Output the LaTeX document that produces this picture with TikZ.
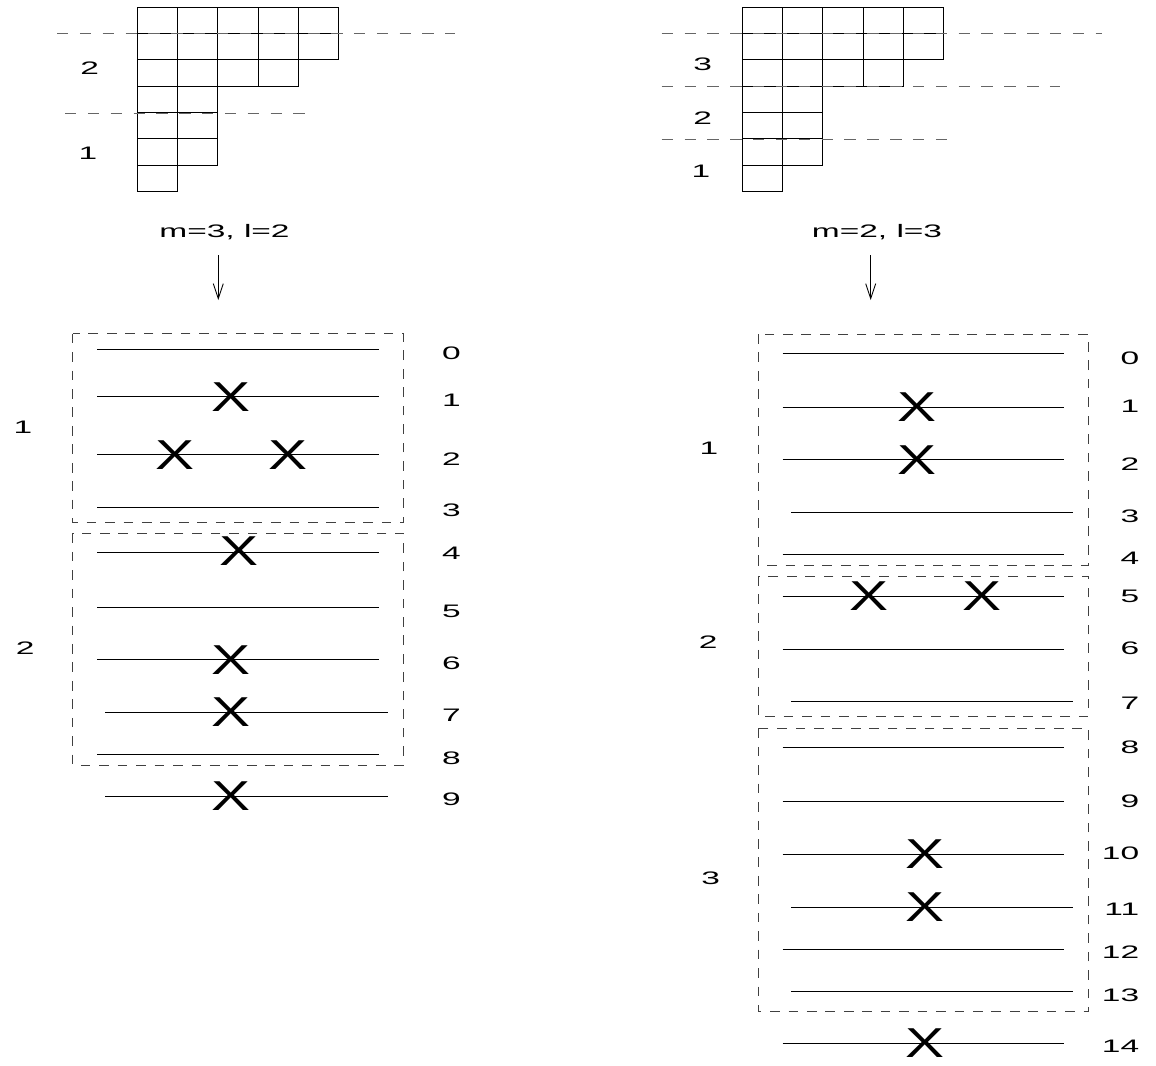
\documentclass[tikz,border=0pt]{standalone}
\usepackage{fontspec}
\setmainfont{Liberation Sans}
\usetikzlibrary{arrows.meta,positioning}
\newcommand{\sx}[1]{\scalebox{1.85}[1]{#1}}
\newcommand{\xmk}{\scalebox{1.4}[1]{X}}
\begin{document}
\begin{tikzpicture}[x=0.02cm,y=-0.02cm,
  ar/.style={-{Straight Barb[length=3mm,width=2mm]},line width=0.5pt},
  cell/.style={line width=0.6pt},
  cut/.style={draw=black!60,dash pattern=on 6.5pt off 6.5pt,line width=0.5pt},
  blk/.style={draw=black!75,dash pattern=on 5.5pt off 5pt,line width=0.5pt},
  wire/.style={line width=0.5pt},
  lab/.style={inner sep=0pt,font=\fontsize{10.3}{12}\selectfont},
  xm/.style={inner sep=0pt,font=\fontsize{23.8}{24}\selectfont}]
\useasboundingbox (0,0) rectangle (1156,1065);

% young diagrams
\foreach \dx in {137.3,742.3}
  \foreach \r/\n in {0/5,1/5,2/4,3/2,4/2,5/2,6/1}
    \foreach \c in {1,...,\n}
      \draw[cell] ({\dx+40.3*(\c-1)},{7.3+26.3*\r}) rectangle ++(40.3,26.3);
\draw[cut] (57,33.7) -- (455,33.7);
\draw[cut] (65,113) -- (307,113);
\draw[cut] (661.7,33.7) -- (1102,33.7);
\draw[cut] (661.7,86.7) -- (1060,86.7);
\draw[cut] (661.7,139.3) -- (951.7,139.3);
\node[lab] (ya2) at (89.7,68.3) {\sx{2}};
\node[lab] (ya1) at (88,153.3) {\sx{1}};
\node[lab] (yb3) at (702.7,64.7) {\sx{3}};
\node[lab] (yb2) at (702.7,118) {\sx{2}};
\node[lab] (yb1) at (701,171) {\sx{1}};

% headings
\node[lab] (ha) at (224.5,232.2) {\sx{m=3, l=2}};
\node[lab] (hb) at (877,232.5) {\sx{m=2, l=3}};
\coordinate (a0) at (218.3,255); \coordinate (a1) at (218.3,300);
\coordinate (b0) at (870.7,255); \coordinate (b1) at (870.7,300);
\draw[ar] (a0) -- (a1);
\draw[ar] (b0) -- (b1);

% left levels
\draw[blk] (72.7,333.7) rectangle (403.7,522.7);
\draw[blk] (72.7,533.3) rectangle (403.7,765);
\foreach \y/\s in {349.3/0,396.7/0,454.7/0,507/0,552.7/0,607.3/0,659.7/0,712.3/8.3,754.3/0,796.3/8.3}
  \draw[wire] ({97+\s},\y) -- ({379.3+\s},\y);
\foreach \i/\y in {0/353,1/400,2/458.7,3/510.5,4/553,5/611.7,6/663,7/715.3,8/757.8,9/799}
  \node[lab,anchor=east] (la\i) at (461,\y) {\sx{\i}};
\node[lab] (ga1) at (23,427) {\sx{1}};
\node[lab] (ga2) at (25.3,648.3) {\sx{2}};
\foreach \x/\y [count=\k] in {231/396.7,175.3/454.7,288/454.7,239/551,231/659.7,231/712.3,231/796.3}
  \node[xm] (xa\k) at (\x,\y) {\xmk};

% right levels
\draw[blk] (758.3,334) rectangle (1088.7,565);
\draw[blk] (758.3,576) rectangle (1088.7,716.7);
\draw[blk] (758.3,728.3) rectangle (1088.7,1011.7);
\foreach \y/\s in {353/0,407.3/0,459.7/0,512.3/8.3,554.3/0,596.3/0,649.3/0,701.7/8.3,747.3/0,801.3/0,854.3/0,907/8.3,949/0,991/8.3,1043.3/0}
  \draw[wire] ({782.7+\s},\y) -- ({1064.3+\s},\y);
\foreach \i/\y in {0/358.7,1/406.7,2/463.7,3/516.7,4/558.3,5/596.3,6/648.7,7/703.7,8/747,9/801.7,10/852.8,11/909,12/952.5,13/994.8,14/1045.8}
  \node[lab,anchor=east] (lb\i) at (1139.5,\y) {\sx{\i}};
\node[lab] (gb1) at (709,448.7) {\sx{1}};
\node[lab] (gb2) at (708.3,642.2) {\sx{2}};
\node[lab] (gb3) at (710.7,878.7) {\sx{3}};
\foreach \x/\y [count=\k] in {917/407.3,917/459.7,868.7/596.3,981.7/596.3,924.8/854.3,924.8/907,924.8/1043.3}
  \node[xm] (xb\k) at (\x,\y) {\xmk};
\end{tikzpicture}
\end{document}
